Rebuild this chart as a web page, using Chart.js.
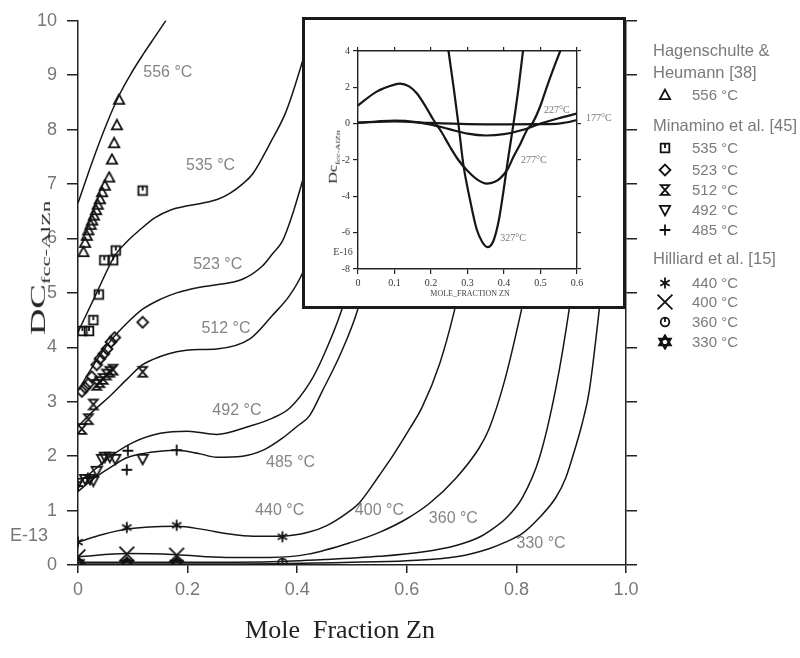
<!DOCTYPE html>
<html>
<head>
<meta charset="utf-8">
<script src="https://cdn.jsdelivr.net/npm/chart.js@4.4.1/dist/chart.umd.min.js"></script>
<style>
  html, body { margin: 0; padding: 0; background: #fff; }
  #wrap { position: relative; width: 800px; height: 658px; overflow: hidden; font-family: "Liberation Sans", Arial, sans-serif; }
  #main { position: absolute; left: 0; top: 0; }
  .txt { position: absolute; white-space: nowrap; transform: translate(-50%, -50%); }
  .leg { position: absolute; white-space: nowrap; color: #7a7a7a; font-size: 15px; line-height: 18px; }
  .leg.head { font-size: 16.5px; }
  .sym { position: absolute; }
  .inset { position: absolute; left: 302px; top: 17px; width: 324px; height: 292px; border: 3px solid #1a1a1a; box-sizing: border-box; background: #fff; }
  #insetChart { position: absolute; left: 0; top: 0; }
  .serif { font-family: "Liberation Serif", "Times New Roman", serif; }
</style>
</head>
<body>
<div id="wrap">
  <canvas id="main" width="800" height="658"></canvas>

  <!-- titres d'axes -->
  <div class="txt serif" style="left:340px; top:630px; font-size:26px; color:#222;">Mole&nbsp;&nbsp;Fraction Zn</div>
  <div class="txt serif" style="left:40px; top:268px; font-size:21px; color:#222; transform: translate(-50%, -50%) rotate(-90deg) scaleX(1.75);">DC<sub style="font-size:13px;">fcc-AlZn</sub></div>
  <div class="txt" style="left:29px; top:535px; font-size:18px; color:#777;">E-13</div>

  <!-- légende -->
  <div id="legend"></div>

  <!-- encart -->
  <div class="inset">
    <canvas id="insetChart" width="318" height="286"></canvas>
    <div class="txt serif" style="left:38px; top:231px; font-size:10px; color:#444;">E-16</div>
    <div class="txt serif" style="left:165px; top:273px; font-size:8px; color:#444;">MOLE_FRACTION ZN</div>
    <div class="txt serif" style="left:29px; top:137px; font-size:12px; color:#222; transform: translate(-50%, -50%) rotate(-90deg) scaleX(1.35);">Dc<sub style="font-size:7px;">fcc-AlZn</sub></div>
  </div>
</div>

<script>
// ---- courbes calculées (graphique principal) ----
const c556X = [0, 0.025, 0.052, 0.076, 0.098, 0.12, 0.14, 0.16, 0.18];
const c556Y = [6.65, 7.38, 8.1, 8.65, 9.05, 9.4, 9.7, 10.0, 10.3];

const c535X = [0, 0.034, 0.067, 0.09, 0.113, 0.14, 0.168, 0.2, 0.228, 0.255, 0.277, 0.3, 0.319, 0.35, 0.38, 0.408, 0.43, 0.45];
const c535Y = [4.28, 5.0, 5.68, 5.95, 6.16, 6.38, 6.52, 6.6, 6.65, 6.72, 6.83, 7.0, 7.19, 7.74, 8.34, 9.2, 10.0, 10.8];

const c523X = [0, 0.03, 0.058, 0.09, 0.118, 0.15, 0.18, 0.22, 0.253, 0.3, 0.337, 0.355, 0.373, 0.39, 0.408, 0.43, 0.45, 0.47, 0.49];
const c523Y = [3.2, 3.7, 4.1, 4.45, 4.7, 4.88, 5.0, 5.1, 5.15, 5.25, 5.5, 5.72, 5.95, 6.4, 7.0, 7.8, 8.8, 10.0, 11.0];

const c512X = [0, 0.03, 0.058, 0.09, 0.118, 0.15, 0.18, 0.22, 0.253, 0.313, 0.355, 0.386, 0.41, 0.44, 0.47, 0.5, 0.52];
const c512Y = [2.55, 2.85, 3.1, 3.42, 3.68, 3.83, 3.92, 3.96, 3.97, 4.15, 4.59, 4.95, 5.37, 6.2, 7.4, 9.0, 10.2];

const c492X = [0, 0.03, 0.06, 0.1, 0.15, 0.2, 0.253, 0.313, 0.355, 0.386, 0.423, 0.446, 0.481, 0.51, 0.54, 0.57, 0.6];
const c492Y = [1.5, 1.75, 2.0, 2.25, 2.42, 2.46, 2.4, 2.55, 2.7, 2.88, 3.35, 3.8, 4.68, 5.7, 7.0, 8.5, 10.2];

const c485X = [0, 0.03, 0.06, 0.089, 0.12, 0.15, 0.18, 0.22, 0.253, 0.3, 0.34, 0.373, 0.4, 0.423, 0.446, 0.48, 0.51, 0.54, 0.57, 0.6, 0.62];
const c485Y = [1.35, 1.6, 1.8, 1.97, 2.05, 2.09, 2.11, 2.05, 1.98, 2.0, 2.12, 2.33, 2.55, 2.75, 3.2, 3.9, 4.68, 5.9, 7.3, 9.0, 10.3];

const c440X = [0, 0.045, 0.089, 0.13, 0.18, 0.23, 0.27, 0.32, 0.373, 0.42, 0.453, 0.49, 0.514, 0.55, 0.574, 0.605, 0.628, 0.66, 0.687, 0.72, 0.75, 0.79];
const c440Y = [0.42, 0.56, 0.66, 0.7, 0.71, 0.65, 0.58, 0.53, 0.53, 0.6, 0.72, 0.95, 1.15, 1.65, 2.0, 2.5, 2.9, 3.7, 4.68, 6.2, 7.8, 10.2];

const c400X = [0, 0.09, 0.18, 0.27, 0.35, 0.42, 0.5, 0.55, 0.6, 0.641, 0.69, 0.732, 0.75, 0.778, 0.809, 0.84, 0.87, 0.9];
const c400Y = [0.15, 0.21, 0.19, 0.14, 0.14, 0.2, 0.42, 0.6, 0.85, 1.13, 1.6, 2.15, 2.5, 3.37, 4.68, 6.2, 8.0, 10.2];

const c360X = [0, 0.2, 0.35, 0.45, 0.55, 0.628, 0.69, 0.732, 0.75, 0.78, 0.811, 0.842, 0.872, 0.896, 0.92, 0.945, 0.97];
const c360Y = [0.05, 0.05, 0.06, 0.1, 0.16, 0.24, 0.36, 0.51, 0.62, 0.85, 1.24, 1.97, 3.25, 4.68, 6.5, 8.5, 10.5];

const c330X = [0, 0.3, 0.5, 0.6, 0.69, 0.75, 0.78, 0.811, 0.84, 0.872, 0.89, 0.902, 0.92, 0.933, 0.951, 0.97, 0.99, 1.0];
const c330Y = [0.02, 0.02, 0.05, 0.08, 0.15, 0.3, 0.42, 0.58, 0.85, 1.24, 1.6, 1.97, 2.6, 3.2, 4.68, 6.5, 8.6, 9.8];

// ---- points expérimentaux ----
const m556X = [0.010, 0.013, 0.016, 0.019, 0.023, 0.026, 0.029, 0.033, 0.036, 0.040, 0.044, 0.049, 0.057, 0.062, 0.066, 0.071, 0.075];
const m556Y = [5.75, 5.92, 6.05, 6.15, 6.25, 6.33, 6.42, 6.52, 6.62, 6.72, 6.85, 6.97, 7.12, 7.45, 7.75, 8.08, 8.55];

const m535X = [0.008, 0.02, 0.028, 0.038, 0.048, 0.064, 0.069, 0.118];
const m535Y = [4.3, 4.3, 4.5, 4.97, 5.6, 5.6, 5.78, 6.88];

const m523X = [0.007, 0.013, 0.019, 0.025, 0.034, 0.04, 0.047, 0.053, 0.06, 0.067, 0.118];
const m523Y = [3.19, 3.26, 3.33, 3.46, 3.68, 3.79, 3.88, 3.97, 4.1, 4.18, 4.46];

const m512X = [0.007, 0.019, 0.028, 0.034, 0.04, 0.046, 0.052, 0.058, 0.064, 0.118];
const m512Y = [2.5, 2.68, 2.95, 3.31, 3.36, 3.42, 3.5, 3.55, 3.59, 3.55];

const m492X = [0, 0.013, 0.022, 0.028, 0.034, 0.044, 0.049, 0.058, 0.068, 0.118];
const m492Y = [1.51, 1.58, 1.58, 1.55, 1.73, 1.95, 1.99, 1.99, 1.95, 1.95];

const m485X = [0, 0.018, 0.089, 0.091, 0.18];
const m485Y = [1.45, 1.6, 1.75, 2.1, 2.11];

const m440X = [0, 0.089, 0.18, 0.373];
const m440Y = [0.42, 0.69, 0.73, 0.52];

const m400X = [0, 0.089, 0.18];
const m400Y = [0.15, 0.2, 0.18];

const m360X = [0.089, 0.18, 0.373];
const m360Y = [0.04, 0.04, 0.04];

const m330X = [0, 0.089, 0.18];
const m330Y = [0.03, 0.02, 0.02];

// étiquettes des courbes (coordonnées en données)
const curveLabelText = ['556 °C', '535 °C', '523 °C', '512 °C', '492 °C', '485 °C', '440 °C', '400 °C', '360 °C', '330 °C'];
const curveLabelX = [0.164, 0.242, 0.255, 0.27, 0.29, 0.388, 0.368, 0.55, 0.685, 0.845];
const curveLabelY = [9.05, 7.34, 5.52, 4.34, 2.84, 1.88, 1.0, 1.0, 0.86, 0.4];

// ---- encart (E-16) ----
const i327X = [0.238, 0.248, 0.262, 0.275, 0.289, 0.307, 0.325, 0.34, 0.355, 0.37, 0.385, 0.399, 0.412, 0.426, 0.44, 0.452, 0.462];
const i327Y = [5.6, 4.0, 2.0, 0.0, -2.3, -4.2, -5.8, -6.5, -6.8, -6.5, -5.4, -3.65, -1.82, 0.0, 2.0, 4.0, 5.6];

const i277X = [0, 0.05, 0.1, 0.115, 0.14, 0.161, 0.185, 0.207, 0.23, 0.252, 0.275, 0.298, 0.325, 0.353, 0.375, 0.39, 0.41, 0.426, 0.445, 0.463, 0.48, 0.5, 0.517, 0.535, 0.554, 0.565];
const i277Y = [1.0, 1.75, 2.15, 2.2, 2.05, 1.67, 0.95, 0.2, -0.5, -1.27, -2.0, -2.55, -3.05, -3.3, -3.2, -3.0, -2.5, -1.82, -1.1, -0.35, 0.1, 1.0, 2.0, 3.0, 4.0, 4.6];

const i227X = [0, 0.05, 0.1, 0.13, 0.2, 0.25, 0.3, 0.35, 0.4, 0.45, 0.5, 0.55, 0.6];
const i227Y = [0.05, 0.12, 0.17, 0.15, -0.05, -0.3, -0.55, -0.65, -0.58, -0.35, 0.0, 0.3, 0.55];

const i177X = [0, 0.1, 0.2, 0.3, 0.4, 0.5, 0.55, 0.6, 0.627];
const i177Y = [0.06, 0.12, 0.04, -0.02, -0.04, -0.03, 0.0, 0.2, 0.42];

const insetLabelText = ['227°C', '177°C', '277°C', '327°C'];
const insetLabelX = [0.545, 0.66, 0.482, 0.425];
const insetLabelY = [0.75, 0.31, -2.0, -6.3];

// ---- légende ----
const legendGroups = ['Hagenschulte &\nHeumann [38]', 'Minamino et al. [45]', 'Hilliard et al. [15]'];
const legendTemps = ['556 °C', '535 °C', '523 °C', '512 °C', '492 °C', '485 °C', '440 °C', '400 °C', '360 °C', '330 °C'];
const legendKinds = ['tri', 'sqTick', 'diamond', 'bowtie', 'triDown', 'plus', 'aster', 'x', 'circTick', 'hexagram'];

const pts = (xs, ys) => xs.map((x, i) => ({ x: x, y: ys[i] }));

// Dessine un symbole (contour noir)
function drawMarker(g, kind, cx, cy, r, lw) {
  g.save();
  g.strokeStyle = '#111';
  g.lineWidth = lw;
  g.lineJoin = 'miter';
  g.beginPath();
  switch (kind) {
    case 'tri':
      g.moveTo(cx, cy - r);
      g.lineTo(cx + r * 0.95, cy + r * 0.75);
      g.lineTo(cx - r * 0.95, cy + r * 0.75);
      g.closePath();
      break;
    case 'triDown':
      g.moveTo(cx - r * 0.95, cy - r * 0.75);
      g.lineTo(cx + r * 0.95, cy - r * 0.75);
      g.lineTo(cx, cy + r);
      g.closePath();
      break;
    case 'sqTick':
      g.rect(cx - r * 0.8, cy - r * 0.8, r * 1.6, r * 1.6);
      g.moveTo(cx, cy - r * 0.8);
      g.lineTo(cx, cy);
      break;
    case 'diamond':
      g.moveTo(cx, cy - r);
      g.lineTo(cx + r, cy);
      g.lineTo(cx, cy + r);
      g.lineTo(cx - r, cy);
      g.closePath();
      break;
    case 'bowtie':
      g.moveTo(cx - r * 0.8, cy - r * 0.9);
      g.lineTo(cx + r * 0.8, cy - r * 0.9);
      g.lineTo(cx - r * 0.8, cy + r * 0.9);
      g.lineTo(cx + r * 0.8, cy + r * 0.9);
      g.closePath();
      break;
    case 'plus':
      g.moveTo(cx - r, cy); g.lineTo(cx + r, cy);
      g.moveTo(cx, cy - r); g.lineTo(cx, cy + r);
      break;
    case 'aster':
      [90, 30, 150].forEach(a => {
        const t = a * Math.PI / 180;
        g.moveTo(cx - r * Math.cos(t), cy - r * Math.sin(t));
        g.lineTo(cx + r * Math.cos(t), cy + r * Math.sin(t));
      });
      break;
    case 'x':
      g.moveTo(cx - r, cy - r); g.lineTo(cx + r, cy + r);
      g.moveTo(cx + r, cy - r); g.lineTo(cx - r, cy + r);
      break;
    case 'circTick':
      g.arc(cx, cy, r * 0.8, 0, Math.PI * 2);
      g.moveTo(cx, cy - r * 0.8);
      g.lineTo(cx, cy);
      break;
    case 'hexagram':
      g.moveTo(cx, cy - r); g.lineTo(cx + r * 0.87, cy + r * 0.5); g.lineTo(cx - r * 0.87, cy + r * 0.5); g.closePath();
      g.moveTo(cx, cy + r); g.lineTo(cx + r * 0.87, cy - r * 0.5); g.lineTo(cx - r * 0.87, cy - r * 0.5); g.closePath();
      break;
  }
  g.stroke();
  g.restore();
}

function markerCanvas(kind) {
  const big = kind === 'x' ? 18 : (kind === 'hexagram' ? 16 : 14);
  const c = document.createElement('canvas');
  c.width = big; c.height = big;
  const lw = kind === 'hexagram' ? 2.2 : 1.8;
  drawMarker(c.getContext('2d'), kind, big / 2, big / 2, big / 2 - 1.6, lw);
  return c;
}

function curve(xs, ys, width) {
  return {
    data: pts(xs, ys), showLine: true, borderColor: '#161616', borderWidth: width || 1.5,
    pointRadius: 0, pointHoverRadius: 0, cubicInterpolationMode: 'monotone', fill: false
  };
}

function markers(xs, ys, kind) {
  return { data: pts(xs, ys), showLine: false, pointStyle: markerCanvas(kind), pointRadius: 6, pointHoverRadius: 6 };
}

// Etiquettes texte placées par les échelles
function labelPlugin(id, texts, xs, ys, font, color) {
  return {
    id: id,
    afterDatasetsDraw(chart) {
      const { ctx, scales } = chart;
      ctx.save();
      ctx.font = font;
      ctx.fillStyle = color;
      ctx.textAlign = 'center';
      ctx.textBaseline = 'middle';
      texts.forEach((t, i) => {
        ctx.fillText(t, scales.x.getPixelForValue(xs[i]), scales.y.getPixelForValue(ys[i]));
      });
      ctx.restore();
    }
  };
}

const axisColor = '#222';
const tickFont = { family: '"Liberation Sans", Arial, sans-serif', size: 18 };

new Chart(document.getElementById('main'), {
  type: 'scatter',
  data: {
    datasets: [
      curve(c556X, c556Y), curve(c535X, c535Y), curve(c523X, c523Y), curve(c512X, c512Y),
      curve(c492X, c492Y), curve(c485X, c485Y), curve(c440X, c440Y), curve(c400X, c400Y),
      curve(c360X, c360Y), curve(c330X, c330Y),
      markers(m556X, m556Y, 'tri'), markers(m535X, m535Y, 'sqTick'), markers(m523X, m523Y, 'diamond'),
      markers(m512X, m512Y, 'bowtie'), markers(m492X, m492Y, 'triDown'), markers(m485X, m485Y, 'plus'),
      markers(m440X, m440Y, 'aster'), markers(m400X, m400Y, 'x'), markers(m360X, m360Y, 'circTick'),
      markers(m330X, m330Y, 'hexagram')
    ]
  },
  options: {
    responsive: false, animation: false, devicePixelRatio: 1,
    layout: { padding: { top: 16, left: 0, right: 0, bottom: 0 } },
    plugins: { legend: { display: false }, tooltip: { enabled: false } },
    scales: {
      x: {
        type: 'linear', position: 'bottom', min: 0, max: 1,
        ticks: { stepSize: 0.2, color: '#777', font: tickFont, padding: 6,
          callback: v => (v === 0 ? '0' : v.toFixed(1)) },
        grid: { drawOnChartArea: false, tickLength: 8, color: axisColor, lineWidth: 1.5 },
        border: { color: axisColor, width: 1.5 },
        afterFit: s => { s.height = 93; }
      },
      y: {
        type: 'linear', position: 'left', min: 0, max: 10,
        ticks: { stepSize: 1, color: '#777', font: tickFont, padding: 10 },
        grid: { drawOnChartArea: false, tickLength: 11, color: axisColor, lineWidth: 1.5 },
        border: { color: axisColor, width: 1.5 },
        afterFit: s => { s.width = 78; }
      },
      y2: {
        type: 'linear', position: 'right', min: 0, max: 10,
        ticks: { stepSize: 1, display: false },
        grid: { drawOnChartArea: false, tickLength: 11, color: axisColor, lineWidth: 1.5 },
        border: { color: axisColor, width: 1.5 },
        afterFit: s => { s.width = 174; }
      }
    }
  },
  plugins: [labelPlugin('curveLabels', curveLabelText, curveLabelX, curveLabelY,
    '16px "Liberation Sans", Arial, sans-serif', '#858585')]
});

// ---- encart ----
const insetTickFont = { family: '"Liberation Serif", "Times New Roman", serif', size: 10 };
const i177 = curve(i177X, i177Y, 2.2);
i177.clip = { left: 0, top: 0, right: 25, bottom: 0 };

new Chart(document.getElementById('insetChart'), {
  type: 'scatter',
  data: {
    datasets: [curve(i327X, i327Y, 2.2), curve(i277X, i277Y, 2.2), curve(i227X, i227Y, 2.2), i177]
  },
  options: {
    responsive: false, animation: false, devicePixelRatio: 1,
    layout: { padding: 0 },
    plugins: { legend: { display: false }, tooltip: { enabled: false } },
    scales: {
      x: {
        type: 'linear', position: 'bottom', min: 0, max: 0.6,
        ticks: { stepSize: 0.1, color: '#333', font: insetTickFont, padding: 3,
          callback: v => (v === 0 ? '0' : v.toFixed(1)) },
        grid: { drawOnChartArea: false, tickLength: 5, color: '#222', lineWidth: 1.2 },
        border: { color: '#222', width: 1.4 },
        afterFit: s => { s.height = 37; }
      },
      x2: {
        type: 'linear', position: 'top', min: 0, max: 0.6,
        ticks: { stepSize: 0.1, display: false },
        grid: { drawOnChartArea: false, tickLength: 4, color: '#222', lineWidth: 1.2 },
        border: { color: '#222', width: 1.4 },
        afterFit: s => { s.height = 31; }
      },
      y: {
        type: 'linear', position: 'left', min: -8, max: 4,
        ticks: { stepSize: 2, color: '#333', font: insetTickFont, padding: 3 },
        grid: { drawOnChartArea: false, tickLength: 5, color: '#222', lineWidth: 1.2 },
        border: { color: '#222', width: 1.4 },
        afterFit: s => { s.width = 53; }
      },
      y2: {
        type: 'linear', position: 'right', min: -8, max: 4,
        ticks: { stepSize: 2, display: false },
        grid: { drawOnChartArea: false, tickLength: 4, color: '#222', lineWidth: 1.2 },
        border: { color: '#222', width: 1.4 },
        afterFit: s => { s.width = 46; }
      }
    }
  },
  plugins: [labelPlugin('insetLabels', insetLabelText, insetLabelX, insetLabelY,
    '10px "Liberation Serif", "Times New Roman", serif', '#777')]
});

// ---- légende HTML ----
(function buildLegend() {
  const box = document.getElementById('legend');
  const groupRows = [[50, 72], [125], [258]];
  const tempRows = [95, 148, 170, 190, 210, 230, 283, 302, 322, 342];
  legendGroups.forEach((g, gi) => {
    g.split('\n').forEach((line, li) => {
      const d = document.createElement('div');
      d.className = 'leg head';
      d.textContent = line;
      d.style.left = '653px';
      d.style.top = (groupRows[gi][li] - 9) + 'px';
      box.appendChild(d);
    });
  });
  legendTemps.forEach((t, i) => {
    const c = markerCanvas(legendKinds[i]);
    c.className = 'sym';
    c.style.left = (665 - c.width / 2) + 'px';
    c.style.top = (tempRows[i] - c.height / 2) + 'px';
    box.appendChild(c);
    const d = document.createElement('div');
    d.className = 'leg';
    d.textContent = t;
    d.style.left = '692px';
    d.style.top = (tempRows[i] - 9) + 'px';
    box.appendChild(d);
  });
})();
</script>
</body>
</html>
